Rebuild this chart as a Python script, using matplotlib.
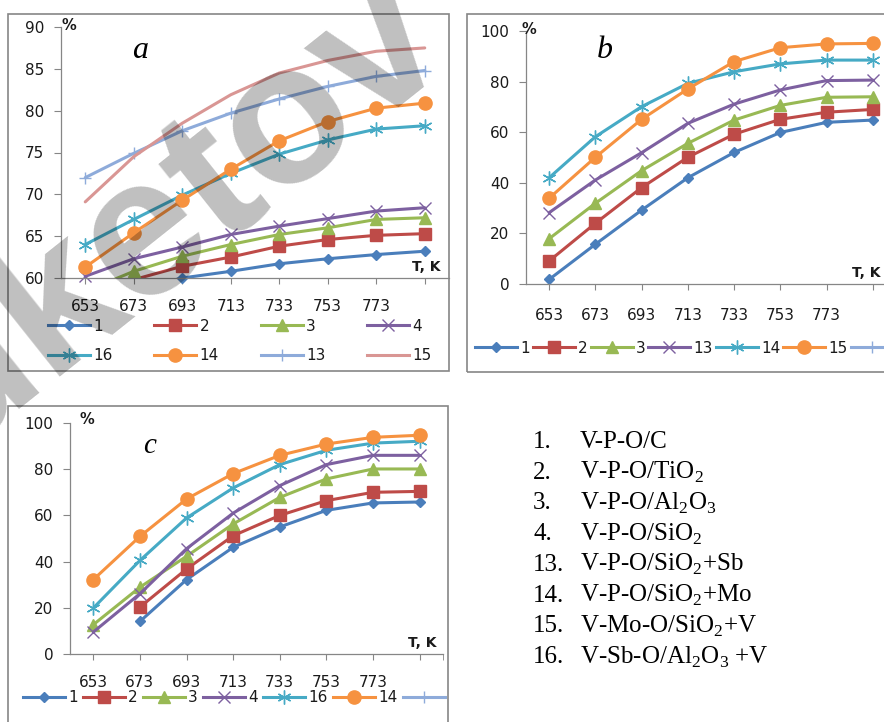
import numpy as np
import matplotlib
matplotlib.use("Agg")
import matplotlib.pyplot as plt
from matplotlib import font_manager
from matplotlib.patches import Rectangle

W, H = 884, 722

categories = ['653', '673', '693', '713', '733', '753', '773', '']

# panel a: conversion, %
a1 = [57.0, 58.6, 60.0, 60.8, 61.7, 62.3, 62.8, 63.2]
a2 = [58.0, 59.8, 61.4, 62.5, 63.8, 64.6, 65.1, 65.3]
a3 = [58.4, 60.8, 62.6, 64.0, 65.2, 66.0, 67.0, 67.2]
a4 = [60.2, 62.3, 63.7, 65.2, 66.2, 67.1, 68.0, 68.4]
a16 = [64.0, 67.0, 69.9, 72.5, 74.8, 76.5, 77.8, 78.2]
a14 = [61.3, 65.4, 69.3, 73.0, 76.4, 78.7, 80.3, 80.9]
a13 = [72.0, 74.9, 77.6, 79.7, 81.4, 82.9, 84.1, 84.8]
a15 = [69.1, 74.5, 78.5, 81.9, 84.5, 86.0, 87.1, 87.5]

# panel b
b1 = [1.8, 15.7, 29.2, 42.0, 52.0, 59.9, 63.9, 64.8]
b2 = [9.1, 24.0, 38.1, 50.1, 59.2, 65.1, 67.9, 69.0]
b3 = [17.9, 31.9, 44.8, 55.6, 64.8, 70.6, 73.8, 74.0]
b13 = [28.2, 41.1, 51.9, 63.5, 71.1, 76.7, 80.4, 80.6]
b14 = [42.0, 58.2, 70.1, 79.3, 83.9, 87.0, 88.5, 88.5]
b15 = [33.9, 50.1, 65.1, 77.1, 87.9, 93.4, 94.9, 95.1]

# panel c
c1 = [np.nan, 14.1, 32.2, 46.2, 55.0, 62.2, 65.4, 65.8]
c2 = [np.nan, 20.3, 36.8, 51.2, 60.0, 66.4, 70.0, 70.4]
c3 = [12.7, 28.9, 42.3, 56.3, 67.8, 75.8, 80.1, 80.1]
c4 = [9.5, 26.1, 45.6, 61.0, 72.9, 82.0, 86.0, 86.0]
c16 = [19.9, 40.5, 58.9, 71.9, 82.0, 88.2, 91.3, 92.1]
c14 = [32.2, 50.9, 67.1, 78.1, 86.0, 90.9, 93.8, 94.7]

catalysts = ['V-P-O/C', 'V-P-O/TiO$_2$', 'V-P-O/Al$_2$O$_3$', 'V-P-O/SiO$_2$',
             'V-P-O/SiO$_2$+Sb', 'V-P-O/SiO$_2$+Mo', 'V-Mo-O/SiO$_2$+V',
             'V-Sb-O/Al$_2$O$_3$ +V']
catalyst_ids = ['1.', '2.', '3.', '4.', '13.', '14.', '15.', '16.']

# excel 2007 style: colour, marker, marker size
BLUE = ('#4A7EBB', 'D', 5.2)
RED = ('#BE4B48', 's', 8.5)
GREEN = ('#98B954', '^', 9.0)
PURPLE = ('#7D60A0', 'x', 9.0)
TEAL = ('#46AAC5', (6, 2, 0), 10.0)
ORANGE = ('#F69240', 'o', 9.5)
LBLUE = ('#8EABDA', '+', 8.0)
PINK = ('#D99694', None, 0)

GRAY = '#868686'
TXT = '#1a1a1a'

plt.rcParams['font.family'] = 'DejaVu Sans'
plt.rcParams['mathtext.fontset'] = 'custom'
plt.rcParams['mathtext.rm'] = 'Liberation Serif'


def fx(px):
    return px / W


def fy(py):
    return 1 - py / H


def _axes(fig, left, top, right, bottom):
    ax = fig.add_axes([fx(left), fy(bottom), (right - left) / W, (bottom - top) / H])
    for s in ('top', 'right'):
        ax.spines[s].set_visible(False)
    for s in ('left', 'bottom'):
        ax.spines[s].set_color(GRAY)
        ax.spines[s].set_linewidth(0.9)
    ax.set_xlim(-0.5, 7.5)
    ax.set_xticks(range(len(categories)))
    ax.set_xticklabels(categories)
    ax.tick_params(axis='x', direction='out', length=4, color=GRAY, pad=11,
                   labelsize=11, labelcolor=TXT)
    ax.tick_params(axis='y', direction='out', length=5, color=GRAY, pad=7,
                   labelsize=11, labelcolor=TXT)
    ax.patch.set_alpha(0)
    return ax


def _series(ax, vals, style, ymin, z):
    color, marker, ms = style
    x = np.arange(len(vals))
    v = np.array(vals, dtype=float)
    ax.plot(x, v, color=color, lw=2.2, zorder=z, solid_capstyle='round')
    if marker is not None:
        vis = np.where(v >= ymin, v, np.nan)
        ax.plot(x, vis, ls='none', marker=marker, ms=ms, color=color, mec=color,
                mew=1.0, clip_on=False, zorder=z + 0.005)
    return _proxy(ax, style)


def _proxy(ax, style):
    color, marker, ms = style
    h, = ax.plot([], [], color=color, lw=2.2, marker=marker, ms=ms, mec=color, mew=1.0)
    return h


def _frame(fig, left, top, right, bottom):
    fig.add_artist(Rectangle((fx(left), fy(bottom)), (right - left) / W, (bottom - top) / H,
                             transform=fig.transFigure, fill=False, ec=GRAY, lw=1.2))


fig = plt.figure(figsize=(W / 100, H / 100), dpi=100)

_frame(fig, 8, 14, 449, 371)
_frame(fig, 467, 14, 950, 372)
_frame(fig, 8, 406, 448, 760)

# ---- panel a
ax = _axes(fig, 61, 27, 449, 278)
ax.set_ylim(60, 90)
ax.set_yticks(range(60, 91, 5))
hs = []
for i, (vals, st) in enumerate([(a1, BLUE), (a2, RED), (a3, GREEN), (a4, PURPLE),
                                (a16, TEAL), (a14, ORANGE), (a13, LBLUE), (a15, PINK)]):
    hs.append(_series(ax, vals, st, 60, 2 + i * 0.01))
labs = ['1', '2', '3', '4', '16', '14', '13', '15']
order = [0, 4, 1, 5, 2, 6, 3, 7]
ax.legend([hs[k] for k in order], [labs[k] for k in order], ncol=4, loc='center left',
          bbox_to_anchor=(fx(48), fy(341)), bbox_transform=fig.transFigure,
          frameon=False, borderpad=0, borderaxespad=0, handlelength=2.75,
          handletextpad=0.2, columnspacing=2.75, labelspacing=0.95, fontsize=11,
          labelcolor=TXT)
fig.text(fx(62), fy(26), '%', fontsize=10.5, fontweight='bold', color=TXT, va='center')
fig.text(fx(440), fy(267), 'T, K', fontsize=10, fontweight='bold', color=TXT,
         ha='right', va='center')
fig.text(fx(140), fy(50), 'a', family='Liberation Serif', style='italic', fontsize=23,
         ha='center', va='center')

# ---- panel b
ax = _axes(fig, 526, 31, 896, 284)
ax.set_ylim(0, 100)
ax.set_yticks(range(0, 101, 20))
ax.tick_params(axis='x', pad=13)
hs = []
for i, (vals, st) in enumerate([(b1, BLUE), (b2, RED), (b3, GREEN), (b13, PURPLE),
                                (b14, TEAL), (b15, ORANGE)]):
    hs.append(_series(ax, vals, st, 0, 2 + i * 0.01))
hs.append(_proxy(ax, LBLUE))
ax.legend(hs, ['1', '2', '3', '13', '14', '15', ''], ncol=7, loc='center left',
          bbox_to_anchor=(fx(475), fy(348)), bbox_transform=fig.transFigure,
          frameon=False, borderpad=0, borderaxespad=0, handlelength=2.75,
          handletextpad=0.2, columnspacing=0.2, fontsize=11, labelcolor=TXT)
fig.text(fx(522), fy(29), '%', fontsize=10.5, fontweight='bold', color=TXT, va='center')
fig.text(fx(880), fy(273), 'T, K', fontsize=10, fontweight='bold', color=TXT,
         ha='right', va='center')
fig.text(fx(605), fy(50), 'b', family='Liberation Serif', style='italic', fontsize=23,
         ha='center', va='center')

# ---- panel c
ax = _axes(fig, 70, 423, 443, 654)
ax.set_ylim(0, 100)
ax.set_yticks(range(0, 101, 20))
ax.set_xticks([7.5], minor=True)
ax.tick_params(axis='x', which='minor', direction='out', length=4, color=GRAY)
hs = []
for i, (vals, st) in enumerate([(c1, BLUE), (c2, RED), (c3, GREEN), (c4, PURPLE),
                                (c16, TEAL), (c14, ORANGE)]):
    hs.append(_series(ax, vals, st, 0, 2 + i * 0.01))
hs.append(_proxy(ax, LBLUE))
ax.legend(hs, ['1', '2', '3', '4', '16', '14', ''], ncol=7, loc='center left',
          bbox_to_anchor=(fx(23), fy(698)), bbox_transform=fig.transFigure,
          frameon=False, borderpad=0, borderaxespad=0, handlelength=2.75,
          handletextpad=0.2, columnspacing=0.35, fontsize=11, labelcolor=TXT)
fig.text(fx(80), fy(420), '%', fontsize=10.5, fontweight='bold', color=TXT, va='center')
fig.text(fx(436), fy(643), 'T, K', fontsize=10, fontweight='bold', color=TXT,
         ha='right', va='center')
fig.text(fx(150), fy(446), 'c', family='Liberation Serif', style='italic', fontsize=21,
         ha='center', va='center')

# ---- catalyst list
for i, (num, name) in enumerate(zip(catalyst_ids, catalysts)):
    y = fy(442 + i * 30.7)
    fig.text(fx(533), y, num, family='Liberation Serif', fontsize=18, va='center', color='black')
    fig.text(fx(580), y, name, family='Liberation Serif', fontsize=18, va='center', color='black')

# watermark
installed = {f.name for f in font_manager.fontManager.ttflist}
if 'Liberation Sans Narrow' in installed:
    wm_font, wm_size = 'Liberation Sans Narrow', 166
else:
    wm_font, wm_size = 'Liberation Sans', 143
fig.text(fx(-48), fy(452), 'uketov', family=wm_font, fontweight='bold',
         fontsize=wm_size, rotation=38.5, rotation_mode='anchor', ha='left', va='baseline',
         color='black', alpha=0.25, zorder=10)

fig.savefig('out.png', dpi=100)
